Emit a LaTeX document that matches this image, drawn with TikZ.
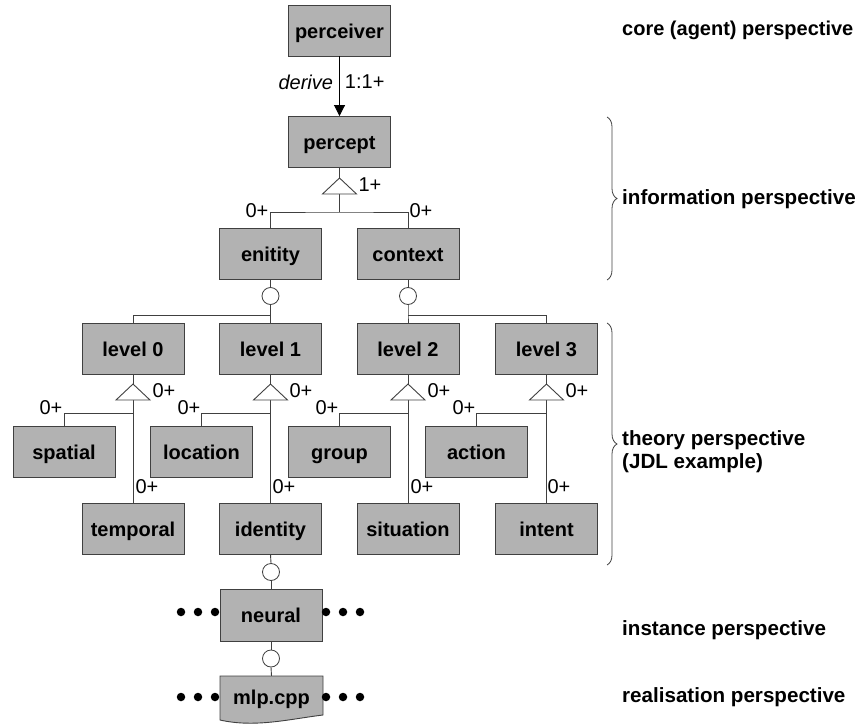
\documentclass[tikz,border=0pt]{standalone}
\usepackage{fontspec}
\setmainfont{Liberation Sans}
\usetikzlibrary{arrows.meta,decorations.pathreplacing}
\begin{document}
\begin{tikzpicture}[x=1pt,y=-1pt,
  every node/.style={font=\fontsize{20}{23}\selectfont},
  box/.style={draw=black!75, fill=gray!60, minimum width=102pt, minimum height=51pt, inner sep=0pt, line width=0.9pt, text height=15.5pt, text depth=0pt, font=\fontsize{20}{23}\selectfont\bfseries},
  conn/.style={draw=black!75, line width=0.9pt},
  card/.style={inner sep=0pt, font=\fontsize{20}{23}\selectfont},
  tri/.style={draw=black!75, fill=white, line width=0.9pt},
  agg/.style={circle, draw=black!75, fill=white, minimum size=17pt, inner sep=0pt, line width=0.8pt},
  dot/.style={circle, fill=black, minimum size=8.5pt, inner sep=0pt},
  persp/.style={anchor=west, inner sep=0pt, align=left, font=\fontsize{20.6}{23}\selectfont\bfseries},
]
\useasboundingbox (0,0) rectangle (859,725);

% ---------- boxes ----------
\node[box] (perceiver) at (339.5,30.5) {perceiver};
\node[box] (percept)   at (339.5,142) {percept};
\node[box] (enitity)   at (270.5,254) {enitity};
\node[box] (context)   at (408,254)   {context};
\node[box] (level0) at (133,348.5)   {level 0};
\node[box] (level1) at (270.5,348.5) {level 1};
\node[box] (level2) at (408,348.5)   {level 2};
\node[box] (level3) at (546.5,348.5) {level 3};
\node[box] (spatial)  at (64,452)    {spatial};
\node[box] (location) at (201.5,452) {location};
\node[box] (group)    at (339.5,452) {group};
\node[box] (action)   at (476.5,452) {action};
\node[box] (temporal)  at (133,528.5)   {temporal};
\node[box] (identity)  at (270.5,528.5) {identity};
\node[box] (situation) at (408,528.5)   {situation};
\node[box] (intent)    at (546.5,528.5) {intent};
\node[box, minimum height=52pt] (neural) at (271,615) {neural};

% mlp.cpp document shape
\path[draw=black!75, fill=gray!60, line width=0.9pt]
  (220,676) -- (323,676) -- (323,715) .. controls (290,719) and (255,728) .. (220,720) -- cycle;
\node[minimum width=103pt, minimum height=42pt, inner sep=0pt, text height=14pt, text depth=0pt, font=\fontsize{20}{23}\selectfont\bfseries] (mlp) at (271.5,697) {mlp.cpp};

% ---------- derive arrow ----------
\draw[black, line width=0.9pt, -{Triangle[length=11pt,width=11pt]}] (perceiver.south) -- (percept.north)
  node[pos=0.43, left=6pt, inner sep=0pt, font=\fontsize{20}{23}\selectfont\itshape] (derive) {derive}
  node[pos=0.43, right=5pt, card] (ratio) {1:1+};

% ---------- percept specialisation ----------
\coordinate (tPa) at (339.5,178);
\coordinate (tPb) at (339.5,194);
\coordinate (jP) at (339.5,212);
\draw[conn] (percept.south) -- (tPa);
\draw[conn] (tPb) -- (jP);
\draw[conn] (enitity.north) |- (jP) -| (context.north);
\path[tri] (tPa) -- ++(17,16) -- ++(-34,0) -- cycle;
\node[card] (cP) at (370,185) {1+};
\node[card] (cE0) at (257,211) {0+};
\node[card] (cC0) at (421,211) {0+};

% ---------- entity / context aggregation ----------
\node[agg] (aE) at (270.5,296) {};
\node[agg] (aC) at (408,296) {};
\coordinate (jE) at (270.5,315);
\coordinate (jC) at (408,315);
\draw[conn] (enitity.south) -- (aE.north);
\draw[conn] (context.south) -- (aC.north);
\draw[conn] (aE.south) -- (jE) -- (level1.north);
\draw[conn] (jE) -| (level0.north);
\draw[conn] (aC.south) -- (jC) -- (level2.north);
\draw[conn] (jC) -| (level3.north);

% ---------- level specialisations ----------
\foreach \n/\x/\s/\t in {0/133/spatial/temporal, 1/270.5/location/identity, 2/408/group/situation, 3/546.5/action/intent}{
  \coordinate (t\n a) at (\x,384);
  \coordinate (t\n b) at (\x,400);
  \coordinate (j\n) at (\x,413);
  \draw[conn] (level\n.south) -- (t\n a);
  \draw[conn] (t\n b) -- (\t.north);
  \draw[conn] (j\n) -| (\s.north);
  \path[tri] (t\n a) -- ++(17,16) -- ++(-34,0) -- cycle;
}
\node[card] (c0t) at (164,391) {0+};
\node[card] (c0s) at (51,408)  {0+};
\node[card] (c0p) at (147,487) {0+};
\node[card] (c1t) at (301,391) {0+};
\node[card] (c1s) at (189,408) {0+};
\node[card] (c1p) at (284,487) {0+};
\node[card] (c2t) at (439,391) {0+};
\node[card] (c2s) at (327,408) {0+};
\node[card] (c2p) at (422,487) {0+};
\node[card] (c3t) at (577,391) {0+};
\node[card] (c3s) at (464,408) {0+};
\node[card] (c3p) at (559,487) {0+};

% ---------- instance / realisation ----------
\node[agg] (aI) at (271,572) {};
\node[agg] (aN) at (271,658.5) {};
\draw[conn] (identity.south) -- (aI.north);
\draw[conn] (aI.south) -- (neural.north);
\draw[conn] (neural.south) -- (aN.north);
\draw[conn] (aN.south) -- (mlp.north);

\foreach \i/\x in {1/181,2/198,3/215}{ \node[dot] (nl\i) at (\x,612) {}; \node[dot] (ml\i) at (\x,697) {}; }
\foreach \i/\x in {1/326,2/343,3/360}{ \node[dot] (nr\i) at (\x,612) {}; \node[dot] (mr\i) at (\x,697) {}; }

% ---------- perspectives ----------
\draw[black!75, line width=0.8pt, decorate, decoration={brace, amplitude=10pt}] (607,117) -- (607,280);
\draw[black!75, line width=0.8pt, decorate, decoration={brace, amplitude=10pt}] (607,323) -- (607,565);
\node[persp, font=\fontsize{20}{23}\selectfont\bfseries] (pcore) at (622,30) {core (agent) perspective};
\node[persp] (pinfo) at (622,199) {information perspective};
\node[persp] (ptheo) at (622,452) {theory perspective\\(JDL example)};
\node[persp] (pinst) at (622,630) {instance perspective};
\node[persp] (preal) at (622,697) {realisation perspective};
\end{tikzpicture}
\end{document}
